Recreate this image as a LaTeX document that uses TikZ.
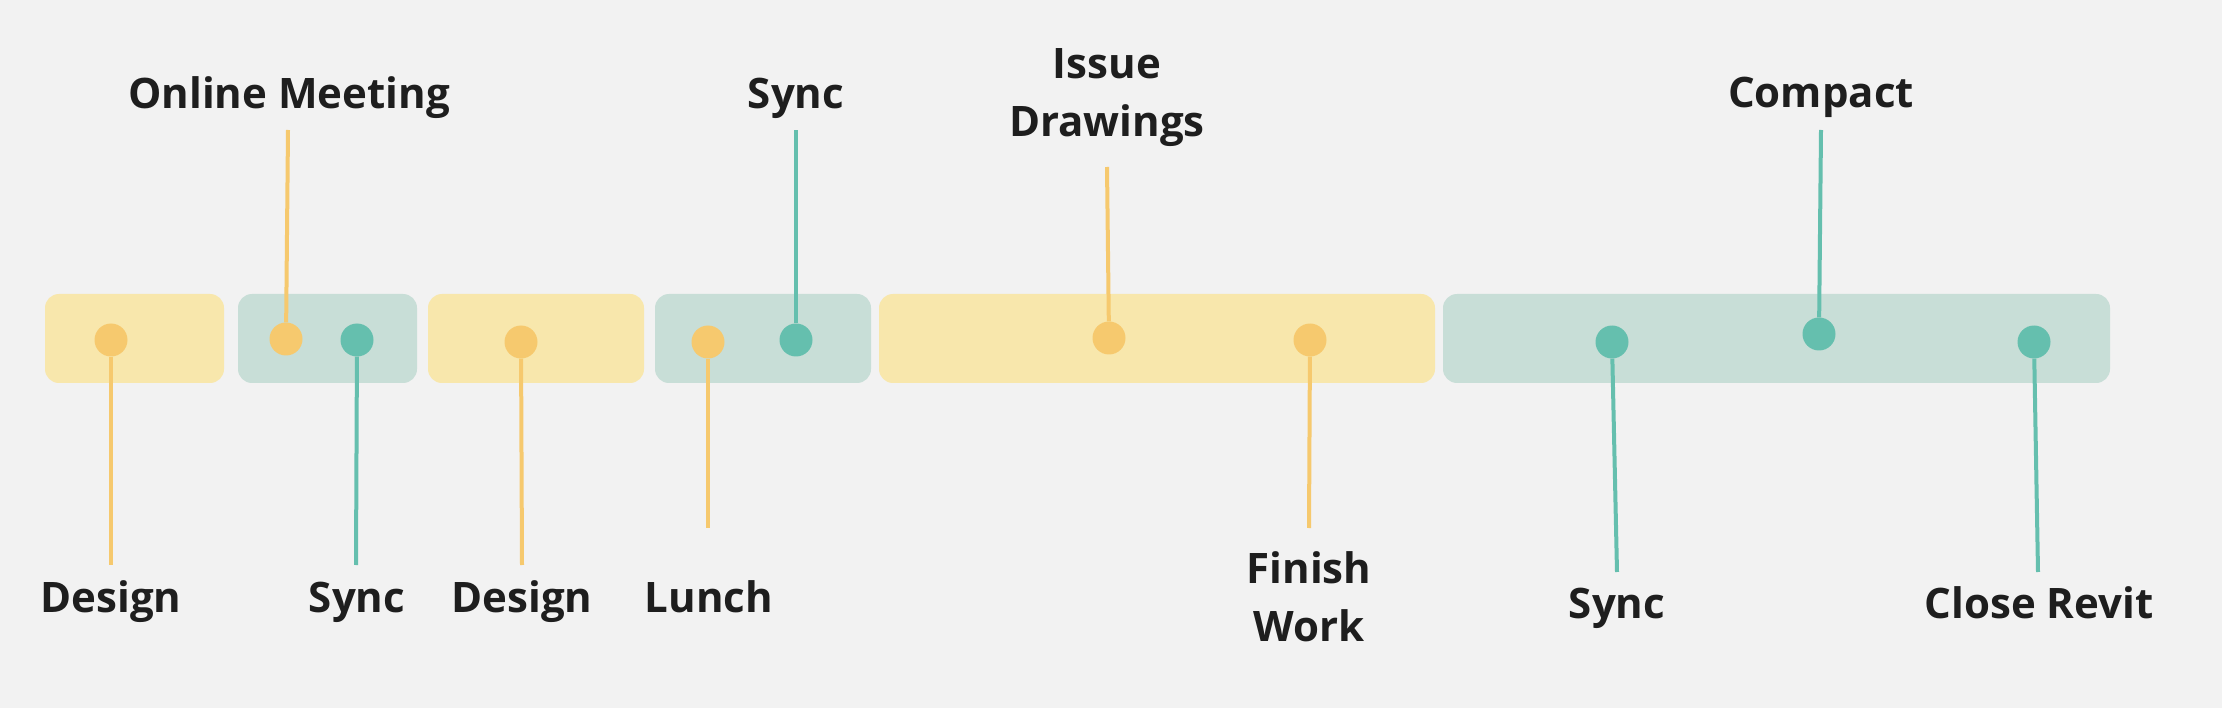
\documentclass[tikz,border=0pt]{standalone}
\usepackage{fontspec}
\setmainfont{Open Sans}
\definecolor{bg}{HTML}{F2F2F2}
\definecolor{ybox}{HTML}{F8E7AC}
\definecolor{gbox}{HTML}{C8DED7}
\definecolor{ydot}{HTML}{F6C96E}
\definecolor{gdot}{HTML}{65BFAE}
\definecolor{ink}{HTML}{1E1E1E}
\begin{document}
\begin{tikzpicture}[x=1pt,y=-1pt,
  band/.style={rounded corners=14pt},
  ydotst/.style={circle,fill=ydot,minimum size=33pt,inner sep=0pt},
  gdotst/.style={circle,fill=gdot,minimum size=33pt,inner sep=0pt},
  yline/.style={draw=ydot,line width=4pt},
  gline/.style={draw=gdot,line width=4pt},
  lbl/.style={font=\fontsize{42}{58}\selectfont\bfseries,text=ink,inner sep=0pt,anchor=base,align=center}]
\fill[bg] (0,0) rectangle (2222,708);
\useasboundingbox (0,0) rectangle (2222,708);
% bands
\fill[ybox,band] (45,294) rectangle (224,383);
\fill[gbox,band] (238,294) rectangle (417,383);
\fill[ybox,band] (428,294) rectangle (644,383);
\fill[gbox,band] (655,294) rectangle (871,383);
\fill[ybox,band] (879,294) rectangle (1435,383);
\fill[gbox,band] (1443,294) rectangle (2110,383);
% dots
\node[ydotst] (d1) at (111,340) {};
\node[ydotst] (d2) at (286,339) {};
\node[gdotst] (d3) at (357,340) {};
\node[ydotst] (d4) at (521,342) {};
\node[ydotst] (d5) at (708,342) {};
\node[gdotst] (d6) at (796,340) {};
\node[ydotst] (d7) at (1109,338) {};
\node[ydotst] (d8) at (1310,340) {};
\node[gdotst] (d9) at (1612,342) {};
\node[gdotst] (d10) at (1819,334) {};
\node[gdotst] (d11) at (2034,342) {};
% line ends
\coordinate (e1) at (111,565);
\coordinate (e2) at (288,130);
\coordinate (e3) at (356,565);
\coordinate (e4) at (522,565);
\coordinate (e5) at (708,528);
\coordinate (e6) at (796,130);
\coordinate (e7) at (1107,167);
\coordinate (e8) at (1309,528);
\coordinate (e9) at (1617,572);
\coordinate (e10) at (1821,130);
\coordinate (e11) at (2038,572);
\draw[yline] (d1) -- (e1);
\draw[yline] (d2) -- (e2);
\draw[gline] (d3) -- (e3);
\draw[yline] (d4) -- (e4);
\draw[yline] (d5) -- (e5);
\draw[gline] (d6) -- (e6);
\draw[yline] (d7) -- (e7);
\draw[yline] (d8) -- (e8);
\draw[gline] (d9) -- (e9);
\draw[gline] (d10) -- (e10);
\draw[gline] (d11) -- (e11);
% labels
\node[lbl] (t2) at (289,109) {Online Meeting};
\node[lbl] (t6) at (796,109) {Sync};
\node[lbl] (t7) at (1107,137) {Issue\\Drawings};
\node[lbl] (t10) at (1821,108) {Compact};
\node[lbl] (t1) at (111,612) {Design};
\node[lbl] (t3) at (357,612) {Sync};
\node[lbl] (t4) at (522,612) {Design};
\node[lbl] (t5) at (709,612) {Lunch};
\node[lbl] (t8) at (1309,641) {Finish\\Work};
\node[lbl] (t9) at (1617,618) {Sync};
\node[lbl] (t11) at (2039,618) {Close Revit};
\end{tikzpicture}
\end{document}
